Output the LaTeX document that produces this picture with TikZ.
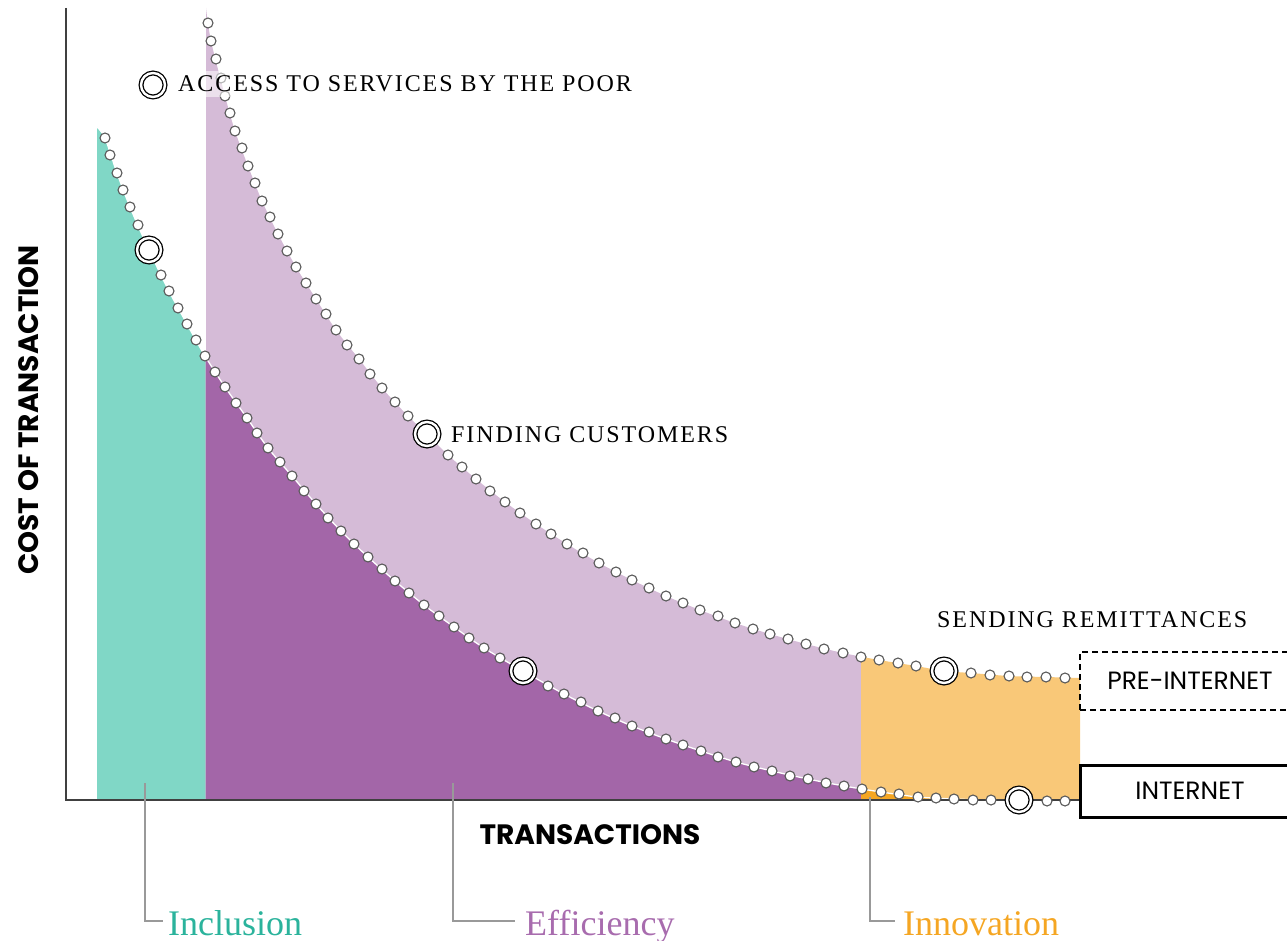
\documentclass[tikz,border=0pt]{standalone}
\usepackage{fontspec}
\setmainfont{Liberation Serif}
\newfontfamily\labfont[LetterSpace=8]{Liberation Serif}
\newfontfamily\futura{Poppins}
\usetikzlibrary{calc}
\definecolor{tealfill}{HTML}{80D7C6}
\definecolor{dpurple}{HTML}{A366A8}
\definecolor{lpurple}{HTML}{D5BBD7}
\definecolor{lorange}{HTML}{F9C878}
\definecolor{dorange}{HTML}{F5A623}
\definecolor{inccol}{HTML}{2BB39C}
\definecolor{effcol}{HTML}{A86CAE}
\definecolor{inncol}{HTML}{F5A623}
\newcommand\lowerfill[1]{\fill[#1] (97,800) -- plot[smooth] coordinates {(97,127) (105,138) (117,173) (130,207) (149,250) (169,291) (187,324) (205,356) (225,387) (247,418) (268,448) (292,476) (316,504) (341,531) (368,557) (395,581) (424,605) (454,627) (484,648) (523,671) (564,694) (598,711) (632,726) (666,739) (701,751) (736,762) (772,771) (808,779) (844,786) (881,792) (918,797) (954,799) (991,800) (1080,801)} -- (1080,800) -- cycle;}
\newcommand\lowerstroke[1]{\draw[#1] plot[smooth] coordinates {(97,127) (105,138) (117,173) (130,207) (149,250) (169,291) (187,324) (205,356) (225,387) (247,418) (268,448) (292,476) (316,504) (341,531) (368,557) (395,581) (424,605) (454,627) (484,648) (523,671) (564,694) (598,711) (632,726) (666,739) (701,751) (736,762) (772,771) (808,779) (844,786) (881,792) (918,797) (954,799) (991,800) (1080,801)};}
\newcommand\upperfill[1]{\fill[#1] (206,800) -- plot[smooth] coordinates {(206,8) (211,41) (225,96) (235,131) (248,166) (262,201) (278,234) (296,267) (316,299) (336,330) (359,359) (382,388) (408,416) (427,434) (448,455) (476,479) (505,502) (536,524) (567,544) (599,563) (632,580) (666,596) (700,610) (735,623) (770,634) (806,644) (843,653) (879,660) (916,666) (944,671) (971,673) (1009,676) (1046,677) (1080,678)} -- (1080,800) -- cycle;}
\begin{document}
\begin{tikzpicture}[x=1pt,y=-1pt,
  dot/.style={fill=white, draw=black!65, line width=1.1pt},
  ring/.style={circle, draw=black, double=white, double distance=2.4pt, line width=1.3pt, fill=white, minimum size=24pt, inner sep=0pt},
  conn/.style={draw=black!40, line width=1.3pt},
  axisline/.style={draw=black!75, line width=1.4pt},
  lab/.style={inner sep=0pt, font=\labfont\fontsize{24}{28}\selectfont},
  cat/.style={inner sep=0pt, font=\fontsize{36}{40}\selectfont},
  axislbl/.style={inner sep=0pt, font=\futura\bfseries\fontsize{28}{32}\selectfont},
  box/.style={minimum width=220pt, inner sep=0pt, font=\futura\fontsize{25}{29}\selectfont}
]
\useasboundingbox (0,0) rectangle (1287,941);
% regions
\begin{scope}
  \clip (97,0) rectangle (205.5,800);
  \lowerfill{tealfill}
\end{scope}
\begin{scope}
  \clip (205.5,0) rectangle (861,800);
  \upperfill{lpurple}
  \lowerfill{dpurple}
\end{scope}
\begin{scope}
  \clip (861,0) rectangle (1080,800);
  \upperfill{lorange}
  \lowerfill{dorange}
\end{scope}
\lowerstroke{white, line width=1.3pt}
% axes
\coordinate (ytop) at (66,8);
\coordinate (origin) at (66,800);
\coordinate (xend) at (1080,800);
\draw[axisline] (ytop) -- (origin) -- (xend);
% dots
\foreach \p in {(105,138),(110,155),(117,173),(123,190),(130,207),(138,225),(161,275),(169,291),(178,308),(187,324),(196,340),(205,356),(215,372),(225,387),(236,403),(247,418),(257,433),(268,448),(280,462),(292,476),(304,491),(316,504),(328,518),(341,531),(354,544),(368,557),(382,569),(395,581),(409,593),(424,605),(439,616),(454,627),(469,638),(484,648),(500,658),(548,686),(564,694),(581,702),(598,711),(615,718),(632,726),(649,732),(666,739),(683,745),(701,751),(718,757),(736,762),(754,767),(772,771),(790,776),(808,779),(826,783),(844,786),(862,789),(881,792),(899,794),(918,797),(936,798),(954,799),(973,800),(991,800),(1047,801),(1065,801)}
  \draw[dot] \p circle[radius=5pt];
\foreach \p in {(208,23),(211,41),(216,59),(221,78),(225,96),(230,113),(235,131),(242,148),(248,166),(255,183),(262,201),(270,217),(278,234),(287,251),(296,267),(306,283),(316,299),(326,314),(336,330),(347,345),(359,359),(370,374),(382,388),(395,402),(408,416),(448,455),(462,467),(476,479),(490,491),(505,502),(520,513),(536,524),(551,534),(567,544),(583,553),(599,563),(616,572),(632,580),(649,588),(666,596),(683,603),(700,610),(718,616),(735,623),(753,629),(770,634),(788,639),(806,644),(824,649),(843,653),(861,657),(879,660),(898,663),(916,666),(971,673),(990,675),(1009,676),(1027,677),(1046,677),(1065,678)}
  \draw[dot] \p circle[radius=5pt];
\fill[white, opacity=0.55] (174,71) rectangle (262,97);
% rings
\node[ring] (r1) at (153,85) {};
\node[ring] (r2) at (427,434) {};
\node[ring] (r3) at (944,671) {};
\node[ring] (r4) at (523,671) {};
\node[ring] (r5) at (1019,800) {};
\node[ring] (r6) at (149,250) {};
% labels
\node[lab, anchor=base west] (access) at (178,92) {ACCESS TO SERVICES BY THE POOR};
\node[lab, anchor=base west] (finding) at (451,442) {FINDING CUSTOMERS};
\node[lab, anchor=base west] (sending) at (937,627) {SENDING REMITTANCES};
% axis labels
\node[axislbl, anchor=base] (xlabel) at (590,844) {TRANSACTIONS};
\node[axislbl, rotate=90] (ylabel) at (29,410) {COST OF TRANSACTION};
% boxes
\node[box, draw, dash pattern=on 6pt off 4pt, line width=1.2pt, minimum height=58pt] (pre) at (1190,681) {PRE-INTERNET};
\node[box, draw, line width=3pt, minimum height=52pt] (net) at (1190,791) {INTERNET};
% categories
\node[cat, text=inccol, anchor=base west] (inclusion) at (168,935) {Inclusion};
\node[cat, text=effcol, anchor=base west] (efficiency) at (525,935) {Efficiency};
\node[cat, text=inncol, anchor=base west] (innovation) at (903,935) {Innovation};
\coordinate (inc) at (145,783);
\coordinate (eff) at (453,783);
\coordinate (inn) at (870,797);
\draw[conn] (inc) |- ($(inclusion.base west)+(-5,-14)$);
\draw[conn] (eff) |- ($(efficiency.base west)+(-10,-14)$);
\draw[conn] (inn) |- ($(innovation.base west)+(-8,-14)$);
\end{tikzpicture}
\end{document}
